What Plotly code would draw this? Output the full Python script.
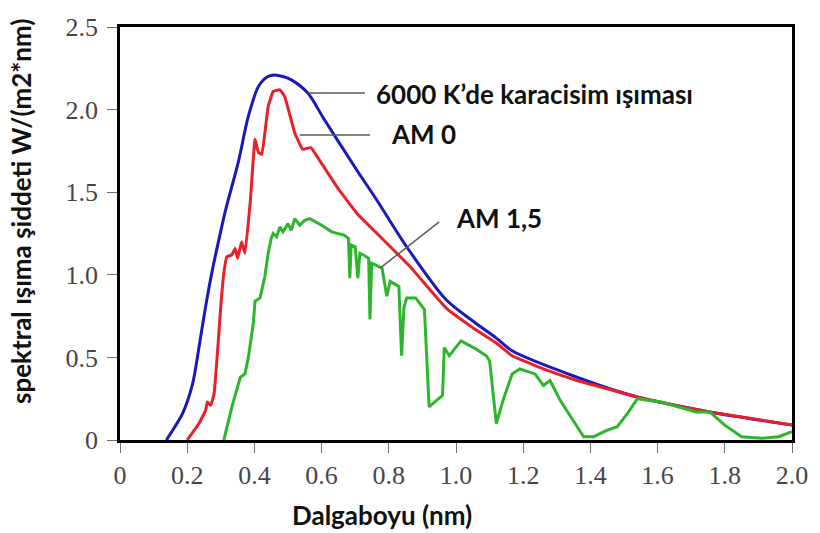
import plotly.graph_objects as go

# Blackbody 6000 K (scaled)
bb_x = [0.138, 0.16, 0.186, 0.216, 0.235, 0.255, 0.275, 0.294, 0.314, 0.353, 0.382, 0.412,
        0.44, 0.461, 0.485, 0.51, 0.559, 0.608, 0.706, 0.765, 0.853, 0.97, 1.05, 1.118,
        1.167, 1.36, 1.54, 1.755, 2.0]
bb_y = [0.0, 0.07, 0.16, 0.34, 0.56, 0.81, 1.03, 1.21, 1.39, 1.69, 1.96, 2.14,
        2.20, 2.21, 2.20, 2.18, 2.10, 1.94, 1.63, 1.45, 1.17, 0.85, 0.72, 0.62,
        0.54, 0.38, 0.26, 0.17, 0.09]

# AM 0
am0_x = [0.20, 0.235, 0.255, 0.26, 0.27, 0.28, 0.289, 0.30, 0.309, 0.318, 0.333, 0.343,
         0.35, 0.362, 0.372, 0.388, 0.402, 0.412, 0.422, 0.441, 0.456, 0.476, 0.49,
         0.52, 0.544, 0.568, 0.598, 0.65, 0.706, 0.765, 0.863, 0.97, 1.05, 1.118, 1.167,
         1.26, 1.36, 1.45, 1.54, 1.65, 1.755, 1.88, 2.0]
am0_y = [0.0, 0.10, 0.18, 0.23, 0.21, 0.28, 0.50, 0.81, 1.01, 1.11, 1.12, 1.16,
         1.10, 1.20, 1.13, 1.45, 1.82, 1.74, 1.73, 2.02, 2.11, 2.12, 2.08,
         1.86, 1.76, 1.77, 1.68, 1.52, 1.37, 1.25, 1.05, 0.80, 0.68, 0.59, 0.51,
         0.43, 0.36, 0.31, 0.26, 0.21, 0.17, 0.13, 0.09]

# AM 1,5
am15_x = [0.309, 0.333, 0.358, 0.372, 0.382, 0.397, 0.402, 0.417, 0.431, 0.441, 0.45, 0.456,
          0.466, 0.476, 0.485, 0.50, 0.51, 0.52, 0.535, 0.55, 0.565, 0.60, 0.63, 0.667,
          0.68, 0.684, 0.688, 0.70, 0.708, 0.714, 0.725, 0.74, 0.744, 0.749, 0.76, 0.78,
          0.794, 0.804, 0.83, 0.838, 0.845, 0.853, 0.88, 0.906, 0.92, 0.96, 0.965, 0.98,
          1.015, 1.06, 1.09, 1.10, 1.12, 1.14, 1.167, 1.19, 1.235, 1.26, 1.28, 1.31,
          1.38, 1.41, 1.45, 1.48, 1.51, 1.54, 1.61, 1.66, 1.715, 1.755, 1.80, 1.85,
          1.91, 1.96, 2.0]
am15_y = [0.0, 0.20, 0.38, 0.40, 0.50, 0.71, 0.84, 0.86, 0.99, 1.13, 1.22, 1.25,
          1.23, 1.29, 1.26, 1.31, 1.27, 1.34, 1.30, 1.33, 1.34, 1.30, 1.26, 1.24,
          1.22, 0.98, 1.18, 1.17, 0.98, 1.13, 1.12, 1.10, 0.73, 1.07, 1.06, 1.04,
          0.87, 0.96, 0.93, 0.51, 0.80, 0.86, 0.86, 0.79, 0.20, 0.27, 0.56, 0.51,
          0.60, 0.55, 0.51, 0.48, 0.10, 0.24, 0.40, 0.43, 0.40, 0.33, 0.36, 0.24,
          0.02, 0.02, 0.06, 0.08, 0.16, 0.25, 0.23, 0.20, 0.17, 0.17, 0.09, 0.02,
          0.01, 0.02, 0.05]

x_ticks = [0, 0.2, 0.4, 0.6, 0.8, 1.0, 1.2, 1.4, 1.6, 1.8, 2.0]
x_tick_text = ["0", "0.2", "0.4", "0.6", "0.8", "1.0", "1.2", "1.4", "1.6", "1.8", "2.0"]
y_ticks = [0, 0.5, 1.0, 1.5, 2.0, 2.5]
y_tick_text = ["0", "0.5", "1.0", "1.5", "2.0", "2.5"]

labels = ["6000 K’de karacisim ışıması", "AM 0", "AM 1,5"]
label_pos = [(0.757, 2.095), (0.80, 1.855), (0.994, 1.345)]
pointer_lines = [((0.559, 2.10), (0.729, 2.10)),
                 ((0.535, 1.846), (0.744, 1.846)),
                 ((0.774, 1.04), (0.95, 1.32))]

fig = go.Figure()
fig.add_trace(go.Scatter(x=bb_x, y=bb_y, mode="lines",
                         line=dict(color="rgb(25,25,190)", width=3, shape="spline", smoothing=0.8),
                         name="6000 K"))
fig.add_trace(go.Scatter(x=am0_x, y=am0_y, mode="lines",
                         line=dict(color="rgb(232,32,40)", width=3, shape="spline", smoothing=0.3),
                         name="AM 0"))
fig.add_trace(go.Scatter(x=am15_x, y=am15_y, mode="lines",
                         line=dict(color="rgb(45,182,45)", width=3),
                         name="AM 1,5"))

for (p0, p1) in pointer_lines:
    fig.add_shape(type="line", xref="x", yref="y", x0=p0[0], y0=p0[1], x1=p1[0], y1=p1[1],
                  line=dict(color="rgb(90,90,90)", width=1.5))

for txt, (lx, ly) in zip(labels, label_pos):
    fig.add_annotation(x=lx, y=ly, xref="x", yref="y", text="<b>" + txt + "</b>",
                       showarrow=False, xanchor="left", yanchor="middle",
                       font=dict(family="Lato", size=26, color="#111"))

fig.add_annotation(x=-0.147, y=0.555, xref="paper", yref="paper",
                   text="<b>spektral ışıma şiddeti W/(m2*nm)</b>", textangle=-90,
                   showarrow=False, xanchor="center", yanchor="middle",
                   font=dict(family="Lato", size=26, color="#111"))
fig.add_annotation(x=0.39, y=-0.182, xref="paper", yref="paper",
                   text="<b>Dalgaboyu (nm)</b>",
                   showarrow=False, xanchor="center", yanchor="middle",
                   font=dict(family="Lato", size=26, color="#111"))

axis_common = dict(showline=True, linecolor="black", linewidth=2.5, mirror=True,
                   showgrid=False, zeroline=False, ticks="outside", ticklen=10,
                   tickcolor="rgb(110,110,110)", tickwidth=1.2,
                   tickfont=dict(family="Liberation Serif", size=26, color="rgb(70,70,70)"))

fig.update_xaxes(range=[0, 2.0], tickvals=x_ticks, ticktext=x_tick_text, **axis_common)
fig.update_yaxes(range=[0, 2.5], tickvals=y_ticks, ticktext=y_tick_text,
                 ticklabelstandoff=4, **axis_common)

fig.update_layout(width=820, height=533, margin=dict(l=120, r=20, t=27, b=93),
                  plot_bgcolor="white", paper_bgcolor="white", showlegend=False)

fig.write_html("out.html")
